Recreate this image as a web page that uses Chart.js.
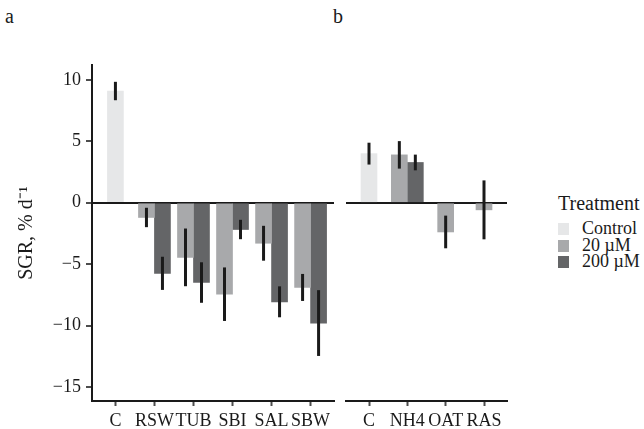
<!DOCTYPE html>
<html>
<head>
<meta charset="utf-8">
<script src="https://cdn.jsdelivr.net/npm/chart.js@4.4.0/dist/chart.umd.min.js"></script>
<style>
  body { margin: 0; background: #fff; }
  #wrap { position: relative; width: 644px; height: 429px; font-family: 'Liberation Serif', 'Times New Roman', serif; color: #1a1a1a; }
  canvas { position: absolute; top: 0; }
  #chartA { left: 0; }
  #chartB { left: 340px; }
  .panel { position: absolute; font-size: 20px; line-height: 20px; }
  #legend { position: absolute; left: 558px; top: 192px; }
  #legend .ttl { font-size: 20px; line-height: 22px; margin-bottom: 6px; }
  #legend .row { height: 16.5px; line-height: 16.5px; font-size: 18px; white-space: nowrap; }
  #legend .box { display: inline-block; width: 11px; height: 12px; margin-right: 13px; vertical-align: -1px; }
</style>
</head>
<body>
<div id="wrap">
  <div class="panel" style="left:5px; top:6px;">a</div>
  <div class="panel" style="left:333px; top:6px;">b</div>
  <canvas id="chartA" width="336" height="429"></canvas>
  <canvas id="chartB" width="172" height="429"></canvas>
  <div id="legend"></div>
</div>
<script>
// panel a
var catsA = ['C', 'RSW', 'TUB', 'SBI', 'SAL', 'SBW'];
var ctrlA = [9.1, null, null, null, null, null];
var ctrlAErr = [0.75, null, null, null, null, null];
var lowA = [null, -1.2, -4.45, -7.45, -3.3, -6.9];
var lowAErr = [null, 0.79, 2.35, 2.18, 1.42, 1.1];
var highA = [null, -5.75, -6.5, -2.18, -8.07, -9.8];
var highAErr = [null, 1.35, 1.65, 0.79, 1.26, 2.68];

// panel b
var catsB = ['C', 'NH4', 'OAT', 'RAS'];
var ctrlB = [4.0, null, null, null];
var ctrlBErr = [0.89, null, null, null];
var lowB = [null, 3.9, -2.38, -0.58];
var lowBErr = [null, 1.12, 1.33, 2.4];
var highB = [null, 3.28, null, null];
var highBErr = [null, 0.64, null, null];

var yTicks = [-15, -10, -5, 0, 5, 10];
var treatments = ['Control', '20 \u00B5M', '200 \u00B5M'];
var colors = ['#e6e7e8', '#a8a9ab', '#646567'];

Chart.defaults.font.family = "'Liberation Serif', 'Times New Roman', serif";
Chart.defaults.color = '#1a1a1a';

// error bars drawn from the dataset "errors" arrays
var errorBars = {
  id: 'errorBars',
  afterDatasetsDraw: function(chart) {
    var ctx = chart.ctx;
    var y = chart.scales.y;
    ctx.save();
    ctx.strokeStyle = '#1a1a1a';
    ctx.lineWidth = 3;
    chart.data.datasets.forEach(function(ds, d) {
      var meta = chart.getDatasetMeta(d);
      ds.data.forEach(function(pt, i) {
        if (pt.y === null || ds.errors[i] === null) return;
        var bar = meta.data[i];
        ctx.beginPath();
        ctx.moveTo(bar.x, y.getPixelForValue(pt.y + ds.errors[i]));
        ctx.lineTo(bar.x, y.getPixelForValue(pt.y - ds.errors[i]));
        ctx.stroke();
      });
    });
    ctx.restore();
  }
};

function pts(vals) {
  return vals.map(function(v, i) { return { x: i, y: v }; });
}

function minus(v) {
  return v < 0 ? '\u2212' + Math.abs(v) : '' + v;
}

function makeChart(id, cats, series, errs, showY, pad) {
  var datasets = series.map(function(s, k) {
    return {
      label: treatments[k],
      data: pts(s),
      errors: errs[k],
      backgroundColor: colors[k],
      borderWidth: 0,
      barThickness: 16,
      skipNull: true
    };
  });
  return new Chart(document.getElementById(id), {
    type: 'bar',
    data: { datasets: datasets },
    options: {
      responsive: false,
      animation: false,
      devicePixelRatio: 1,
      layout: { padding: pad },
      plugins: { legend: { display: false }, tooltip: { enabled: false } },
      scales: {
        x: {
          type: 'linear',
          offset: false,
          min: -0.6,
          max: cats.length - 0.4,
          afterBuildTicks: function(scale) {
            scale.ticks = cats.map(function(c, i) { return { value: i }; });
          },
          afterFit: function(scale) { scale.height = 28; },
          ticks: {
            autoSkip: false,
            maxRotation: 0,
            padding: 4,
            color: '#1a1a1a',
            font: { size: 18 },
            callback: function(v) { return cats[v]; }
          },
          grid: {
            offset: false,
            drawOnChartArea: false,
            tickLength: 5,
            tickWidth: 2,
            tickColor: '#4d4d4d'
          },
          border: { display: true, color: '#1a1a1a', width: 2 }
        },
        y: {
          min: -16.15,
          max: 11.22,
          afterBuildTicks: function(scale) {
            scale.ticks = yTicks.map(function(v) { return { value: v }; });
          },
          afterFit: function(scale) { scale.width = showY ? 92 : 0; },
          title: {
            display: showY,
            text: 'SGR, % d\u207B\u00B9',
            font: { size: 20 },
            color: '#1a1a1a',
            padding: { top: 15 }
          },
          ticks: {
            display: showY,
            padding: 5,
            color: '#1a1a1a',
            font: { size: 18 },
            callback: function(v) { return minus(v); }
          },
          grid: {
            drawOnChartArea: true,
            drawTicks: showY,
            tickLength: 6,
            tickWidth: 2,
            tickColor: '#4d4d4d',
            lineWidth: 2,
            color: function(c) {
              return c.tick && c.tick.value === 0 ? '#1a1a1a' : 'rgba(0,0,0,0)';
            }
          },
          border: { display: showY, color: '#1a1a1a', width: 2 }
        }
      }
    },
    plugins: [errorBars]
  });
}

makeChart('chartA', catsA, [ctrlA, lowA, highA], [ctrlAErr, lowAErr, highAErr], true,
  { top: 65, left: 0, right: 2, bottom: 0 });
makeChart('chartB', catsB, [ctrlB, lowB, highB], [ctrlBErr, lowBErr, highBErr], false,
  { top: 65, left: 6, right: 5, bottom: 0 });

// legend
var leg = document.getElementById('legend');
var html = '<div class="ttl">Treatment</div>';
treatments.forEach(function(t, k) {
  html += '<div class="row"><span class="box" style="background:' + colors[k] + '"></span>' + t + '</div>';
});
leg.innerHTML = html;
</script>
</body>
</html>
